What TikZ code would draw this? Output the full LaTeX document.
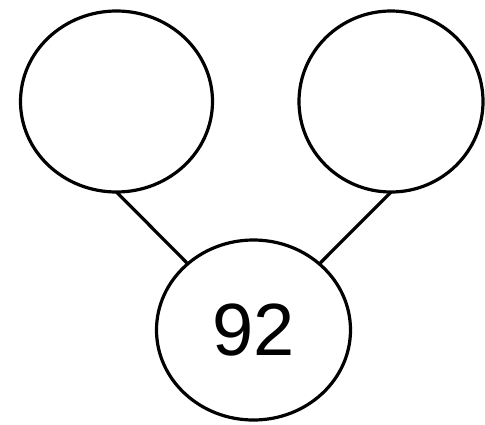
\documentclass[tikz,border=0pt]{standalone}
\usepackage{fontspec}
\setmainfont{Liberation Sans}
\usetikzlibrary{shapes.geometric}
\begin{document}
\begin{tikzpicture}[x=1pt,y=-1pt,
  bubble/.style={draw=black, line width=3.2pt, ellipse, inner sep=0pt, outer sep=0pt},
  link/.style={draw=black, line width=3.2pt}]
\useasboundingbox (0,0) rectangle (485,424);
\node[bubble, minimum width=192pt, minimum height=181pt] (L) at (116.5,101.5) {};
\node[bubble, minimum width=184pt, minimum height=181pt] (R) at (391,101.5) {};
\node[bubble, minimum width=194pt, minimum height=180pt, font=\fontsize{74}{80}\selectfont] (B) at (253.5,330) {92};
\draw[link] (L.south) -- (B);
\draw[link] (R.south) -- (B);
\end{tikzpicture}
\end{document}
